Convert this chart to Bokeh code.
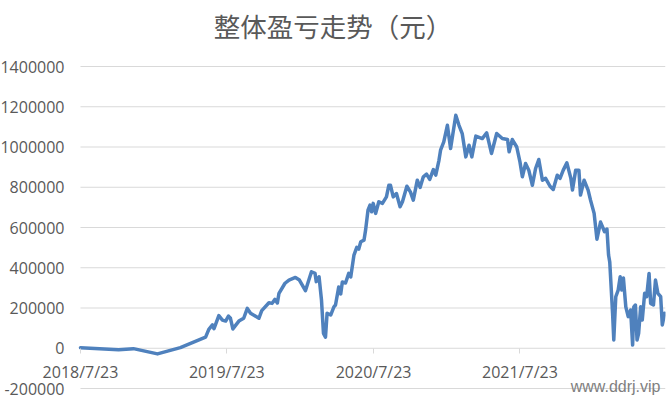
import pandas as pd
from bokeh.plotting import figure
from bokeh.models import Range1d, FixedTicker, Label
from bokeh.embed import file_html
from bokeh.resources import INLINE

title_text = "整体盈亏走势（元）"
watermark = "www.ddrj.vip"

dates = [
    "2018-07-23", "2018-10-26", "2018-12-02", "2019-01-31", "2019-03-29", "2019-05-31",
    "2019-06-08", "2019-06-17", "2019-06-21", "2019-07-03", "2019-07-12", "2019-07-20",
    "2019-07-27", "2019-08-01", "2019-08-07", "2019-08-22", "2019-09-03", "2019-09-12",
    "2019-09-20", "2019-10-11", "2019-10-18", "2019-11-05", "2019-11-13", "2019-11-20",
    "2019-11-26", "2019-11-30", "2019-12-15", "2019-12-25", "2020-01-10", "2020-01-20",
    "2020-02-04", "2020-02-19", "2020-02-28", "2020-03-02", "2020-03-09", "2020-03-15",
    "2020-03-20", "2020-03-25", "2020-03-29", "2020-04-07", "2020-04-15", "2020-04-19",
    "2020-04-27", "2020-05-02", "2020-05-06", "2020-05-14", "2020-05-22", "2020-05-27",
    "2020-06-04", "2020-06-11", "2020-06-16", "2020-06-21", "2020-06-29", "2020-07-03",
    "2020-07-09", "2020-07-14", "2020-07-18", "2020-07-22", "2020-07-28", "2020-08-05",
    "2020-08-14", "2020-08-24", "2020-08-30", "2020-09-03", "2020-09-10", "2020-09-18",
    "2020-09-27", "2020-10-03", "2020-10-14", "2020-10-23", "2020-10-30", "2020-11-09",
    "2020-11-16", "2020-11-24", "2020-12-02", "2020-12-10", "2020-12-19", "2020-12-25",
    "2021-01-02", "2021-01-06", "2021-01-14", "2021-01-23", "2021-01-31", "2021-02-13",
    "2021-02-21", "2021-03-01", "2021-03-10", "2021-03-18", "2021-03-25", "2021-04-04",
    "2021-04-20", "2021-05-01", "2021-05-13", "2021-05-26", "2021-06-09", "2021-06-22",
    "2021-06-26", "2021-07-04", "2021-07-15", "2021-07-23", "2021-07-29", "2021-08-06",
    "2021-08-14", "2021-08-23", "2021-08-31", "2021-09-08", "2021-09-17", "2021-09-25",
    "2021-10-06", "2021-10-14", "2021-10-24", "2021-10-31", "2021-11-08", "2021-11-17",
    "2021-11-27", "2021-12-01", "2021-12-09", "2021-12-17", "2021-12-21", "2021-12-30",
    "2022-01-09", "2022-01-15", "2022-01-24", "2022-01-31", "2022-02-09", "2022-02-19",
    "2022-02-25", "2022-03-01", "2022-03-04", "2022-03-11", "2022-03-14", "2022-03-19",
    "2022-03-25", "2022-03-30", "2022-04-03", "2022-04-07", "2022-04-13", "2022-04-19",
    "2022-04-25", "2022-04-30", "2022-05-03", "2022-05-07", "2022-05-11", "2022-05-15",
    "2022-05-20", "2022-05-24", "2022-05-30", "2022-06-04", "2022-06-10", "2022-06-14",
    "2022-06-21", "2022-06-26", "2022-07-02", "2022-07-09", "2022-07-13", "2022-07-19",
]

values = [
    3000, -7000, -2000, -28000, 3000, 55000,
    94000, 116000, 97000, 162000, 140000, 135000,
    160000, 149000, 96000, 135000, 149000, 198000,
    174000, 149000, 187000, 226000, 223000, 243000,
    225000, 273000, 323000, 339000, 352000, 339000,
    286000, 380000, 372000, 331000, 355000, 240000,
    74000, 55000, 174000, 165000, 206000, 215000,
    304000, 270000, 329000, 324000, 372000, 354000,
    463000, 501000, 493000, 529000, 537000, 587000,
    686000, 711000, 678000, 720000, 670000, 728000,
    720000, 752000, 810000, 810000, 752000, 769000,
    703000, 728000, 805000, 776000, 736000, 835000,
    799000, 852000, 865000, 839000, 888000, 860000,
    934000, 984000, 1025000, 1108000, 993000, 1158000,
    1108000, 1067000, 951000, 1009000, 951000, 1054000,
    1042000, 1070000, 968000, 1067000, 1042000, 1037000,
    976000, 1037000, 1000000, 926000, 852000, 918000,
    885000, 810000, 893000, 938000, 835000, 844000,
    805000, 789000, 860000, 844000, 885000, 921000,
    844000, 786000, 885000, 885000, 761000, 835000,
    786000, 736000, 670000, 542000, 627000, 579000,
    592000, 463000, 428000, 174000, 41000, 256000,
    289000, 355000, 289000, 349000, 206000, 157000,
    190000, 16000, 206000, 215000, 41000, 74000,
    206000, 140000, 273000, 256000, 372000, 223000,
    215000, 339000, 273000, 256000, 116000, 174000,
]

axis_x_start = "2018-07-23"
axis_x_end = "2022-07-21"
x_tick_dates = ["2018-07-23", "2019-07-23", "2020-07-23", "2021-07-23"]
x_tick_labels = ["2018/7/23", "2019/7/23", "2020/7/23", "2021/7/23"]
y_ticks = [-200000, 0, 200000, 400000, 600000, 800000, 1000000, 1200000, 1400000]
y_tick_labels = ["-200000", "0", "200000", "400000", "600000", "800000",
                 "1000000", "1200000", "1400000"]

TEXT = "#595959"
GRID = "#d9d9d9"
LINE = "#4F81BD"

# ---- layout geometry (pixels) ----
W, H = 672, 404
PLOT_L, PLOT_R = 80, 665      # where the date axis begins/ends horizontally
PLOT_T, PLOT_B = 66, 388      # top / bottom gridline
TITLE_CY = 25                 # title vertical centre
MARK_BASE = 386               # watermark baseline

x0 = pd.Timestamp(axis_x_start)
x1 = pd.Timestamp(axis_x_end)
per_px_x = (x1 - x0) / (PLOT_R - PLOT_L)
y_lo, y_hi = y_ticks[0], y_ticks[-1]
per_px_y = (y_hi - y_lo) / (PLOT_B - PLOT_T)

x_range = Range1d(x0 - per_px_x * PLOT_L, x1)
y_range = Range1d(y_lo - per_px_y * (H - PLOT_B), y_hi + per_px_y * PLOT_T)

p = figure(
    width=W, height=H,
    x_axis_type="datetime",
    x_range=x_range, y_range=y_range,
    output_backend="svg", toolbar_location=None,
    min_border_left=0, min_border_right=W - PLOT_R, min_border_top=0, min_border_bottom=0,
)
p.outline_line_color = None
p.background_fill_color = "white"
p.border_fill_color = "white"
p.xgrid.visible = False
p.ygrid.visible = False
p.yaxis.visible = False

# horizontal gridlines limited to the plot area
n = len(y_ticks)
p.segment(x0=[x0] * n, y0=y_ticks, x1=[x1] * n, y1=y_ticks, line_color=GRID, line_width=1)

# value labels on the left
p.text(x=[x0] * n, y=y_ticks, text=y_tick_labels, x_offset=-16,
       text_align="right", text_baseline="middle",
       text_font={"value": "Open Sans"}, text_font_size={"value": "16px"}, text_color=TEXT)

# data line
p.line(pd.to_datetime(dates), values, line_color=LINE, line_width=3.5,
       line_join="round", line_cap="round")

# date axis crossing at zero
tick_ms = [pd.Timestamp(d).value // 10**6 for d in x_tick_dates]
p.xaxis.fixed_location = 0
p.xaxis.ticker = FixedTicker(ticks=tick_ms)
p.xaxis.major_label_overrides = {t: lab for t, lab in zip(tick_ms, x_tick_labels)}
p.xaxis.axis_line_color = None
p.xaxis.major_tick_line_color = GRID
p.xaxis.major_tick_out = 5
p.xaxis.major_tick_in = 0
p.xaxis.minor_tick_line_color = None
p.xaxis.major_label_standoff = 8
p.xaxis.major_label_text_font = "Open Sans"
p.xaxis.major_label_text_font_size = "16px"
p.xaxis.major_label_text_color = TEXT

# title, centred over the chart
p.add_layout(Label(
    x=W / 2 - 3.5, y=H - TITLE_CY, x_units="screen", y_units="screen", text=title_text,
    text_align="center", text_baseline="middle",
    text_font="Noto Sans CJK SC", text_font_size="26.5px", text_color=TEXT,
))

# watermark
p.add_layout(Label(
    x=660, y=H - MARK_BASE, x_units="screen", y_units="screen", text=watermark,
    text_align="right", text_baseline="alphabetic",
    text_font="Liberation Sans", text_font_size="16px", text_color="#7f7f7f",
))

open("out.html", "w").write(file_html(p, INLINE))
